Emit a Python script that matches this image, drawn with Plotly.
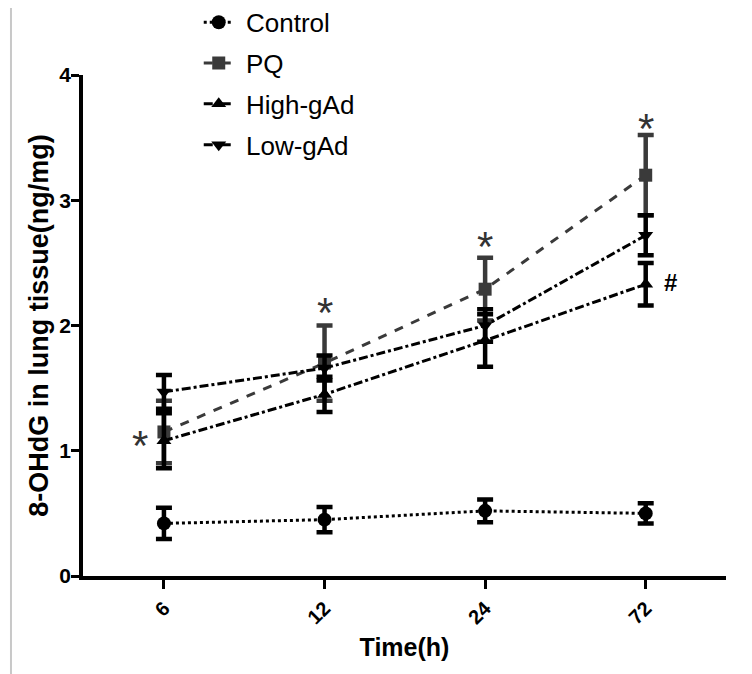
import plotly.graph_objects as go

times = ["6", "12", "24", "72"]
series_names = ["Control", "PQ", "High-gAd", "Low-gAd"]
control = [0.42, 0.45, 0.52, 0.50]
control_err = [0.125, 0.10, 0.09, 0.08]
pq = [1.15, 1.70, 2.29, 3.20]
pq_err = [0.25, 0.30, 0.25, 0.32]
high = [1.08, 1.45, 1.88, 2.33]
high_err = [0.22, 0.14, 0.21, 0.17]
low = [1.47, 1.66, 2.00, 2.72]
low_err = [0.135, 0.10, 0.13, 0.16]

# significance marks: (time index, y, text)
star_marks = [(0, 1.09, "*"), (1, 2.15, "*"), (2, 2.68, "*"), (3, 3.62, "*")]
hash_marks = [(3, 2.34, "#")]

styles = {
    "Control": dict(color="#000000", dash="dot", symbol="circle", size=14),
    "PQ": dict(color="#3a3a3a", dash="dash", symbol="square", size=13),
    "High-gAd": dict(color="#000000", dash="dashdot", symbol="triangle-up", size=13),
    "Low-gAd": dict(color="#000000", dash="dashdot", symbol="triangle-down", size=13),
}
values = {"Control": (control, control_err), "PQ": (pq, pq_err),
          "High-gAd": (high, high_err), "Low-gAd": (low, low_err)}

fig = go.Figure()
for name in series_names:
    y, e = values[name]
    s = styles[name]
    fig.add_trace(go.Scatter(
        x=times, y=y, name=" " + name, legendgroup=name,
        mode="lines+markers",
        line=dict(color=s["color"], dash=s["dash"], width=3),
        marker=dict(color=s["color"], symbol=s["symbol"], size=s["size"]),
        error_y=dict(type="data", array=e, visible=True, color=s["color"],
                     thickness=4.5, width=8),
    ))

for t, yv, txt in star_marks:
    xs = -24 if t == 0 else 0
    fig.add_annotation(x=t, y=yv, xref="x", yref="y", text=txt, showarrow=False,
                       xshift=xs, yshift=-6,
                       font=dict(size=42, color="#333333", family="Liberation Sans, Arial"))
for t, yv, txt in hash_marks:
    fig.add_annotation(x=t, y=yv, xref="x", yref="y", text=txt, showarrow=False,
                       xshift=25, yshift=0,
                       font=dict(size=24, color="#000000", family="Liberation Sans, Arial",
                                 weight="bold"))

# thin grey frame line on the left edge of the picture
fig.add_shape(type="line", xref="paper", yref="paper", x0=-0.1120, x1=-0.1120,
              y0=-0.25, y1=1.2, line=dict(color="#c8c8c8", width=2))

fig.update_layout(
    width=752, height=674,
    margin=dict(l=75, r=34, t=67, b=106, autoexpand=False),
    paper_bgcolor="white", plot_bgcolor="white",
    font=dict(family="Liberation Sans, Arial", color="#000000"),
    showlegend=True,
    legend=dict(x=0.18, y=1.152, xanchor="left", yanchor="top",
                font=dict(size=26, color="#000000"), tracegroupgap=4,
                bgcolor="rgba(0,0,0,0)"),
    xaxis=dict(type="category", range=[-0.504, 3.5], showline=True, linecolor="black",
               linewidth=3.5, ticks="outside", ticklen=9, tickwidth=3, tickcolor="black",
               showgrid=False, zeroline=False, tickangle=-45,
               tickfont=dict(size=20, weight="bold"),
               title=dict(text="Time(h)",
                          font=dict(size=25, weight="bold",
                                    family="Liberation Sans Narrow, Arial Narrow, Liberation Sans"),
                          standoff=12)),
    yaxis=dict(range=[0, 4], tickvals=[0, 1, 2, 3, 4], showline=True, linecolor="black",
               linewidth=3.5, ticks="outside", ticklen=8, tickwidth=3, tickcolor="black",
               showgrid=False, zeroline=False, ticklabelstandoff=-4,
               tickfont=dict(size=21, weight="bold"),
               title=dict(text="8-OHdG in lung tissue(ng/mg)", font=dict(size=27, weight="bold"),
                          standoff=4)),
)

fig.write_html("out.html")
